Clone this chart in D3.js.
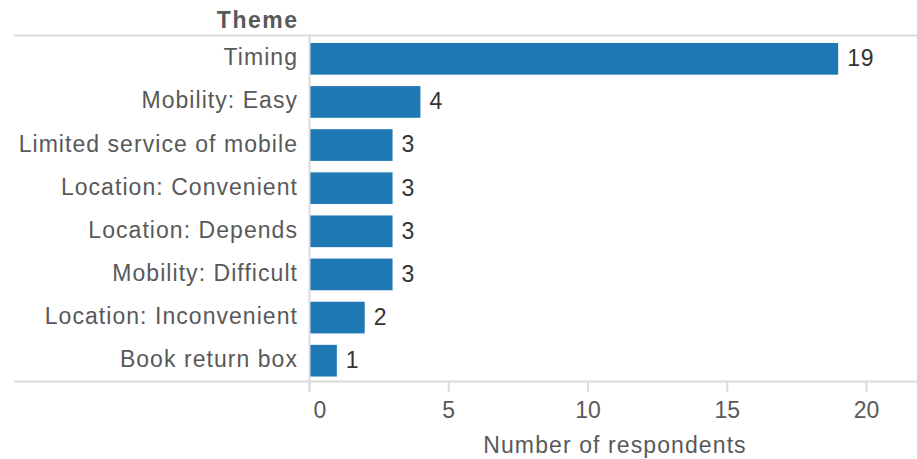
<!DOCTYPE html>
<html><head><meta charset="utf-8">
<script src="https://cdn.jsdelivr.net/npm/d3@7"></script>
<style>body{margin:0;background:#fff}svg{display:block}text{font-family:"Liberation Sans",Arial,sans-serif}</style>
</head><body><svg id="c" width="917" height="459"></svg>
<script>
const themes = ["Timing","Mobility: Easy","Limited service of mobile","Location: Convenient","Location: Depends","Mobility: Difficult","Location: Inconvenient","Book return box"];
const counts = [19,4,3,3,3,3,2,1];
const xTicks = [0,5,10,15,20];
const yTitle = "Theme";
const xTitle = "Number of respondents";

const svg = d3.select("#c");
const x = d3.scaleLinear().domain([0,20]).range([309,866]);
const y = d3.scaleBand().domain(themes).range([36.5,383]).paddingInner(0.265).paddingOuter(0.15);
const gridC = "#dcdcdc";

// top and bottom rules
svg.append("line").attr("x1",14).attr("x2",917).attr("y1",35.5).attr("y2",35.5).attr("stroke",gridC).attr("stroke-width",2);
svg.append("line").attr("x1",14).attr("x2",917).attr("y1",381.5).attr("y2",381.5).attr("stroke",gridC).attr("stroke-width",2);

// bars
svg.selectAll("rect.bar").data(themes).join("rect").attr("class","bar")
  .attr("x",x(0)).attr("y",d=>y(d)).attr("height",y.bandwidth())
  .attr("width",(d,i)=>x(counts[i])-x(0)).attr("fill","#1f77b4");

// vertical axis line
svg.append("line").attr("x1",309.5).attr("x2",309.5).attr("y1",35).attr("y2",392).attr("stroke",gridC).attr("stroke-width",2);

// x axis
const xa = svg.append("g").attr("transform","translate(0,382)")
  .call(d3.axisBottom(x).tickValues(xTicks).tickSize(10).tickPadding(10));
xa.select(".domain").remove();
xa.selectAll(".tick line").attr("stroke",gridC).attr("stroke-width",2);
xa.selectAll(".tick text").attr("fill","#595959").attr("font-size",23).attr("font-family","Liberation Sans, Arial, sans-serif")
  .attr("text-anchor",d=>d===0?"start":"middle").attr("dx",d=>d===0?4:0);

// y labels
svg.append("g").selectAll("text").data(themes).join("text")
  .attr("x",298).attr("y",d=>y(d)+y.bandwidth()/2).attr("dy","0.28em")
  .attr("text-anchor","end").attr("font-size",23).attr("letter-spacing","1.05px").attr("fill","#595959").text(d=>d);

// value labels
svg.append("g").selectAll("text").data(themes).join("text")
  .attr("x",(d,i)=>x(counts[i])+9).attr("y",d=>y(d)+y.bandwidth()/2).attr("dy","0.32em")
  .attr("font-size",23).attr("letter-spacing","0.8px").attr("fill","#333").text((d,i)=>counts[i]);

// titles
svg.append("text").attr("x",298.5).attr("y",28).attr("text-anchor","end").attr("font-size",23).attr("letter-spacing","1.5px").attr("font-weight","bold").attr("fill","#595959").text(yTitle);
svg.append("text").attr("x",615).attr("y",453).attr("text-anchor","middle").attr("font-size",23).attr("letter-spacing","1.1px").attr("fill","#595959").text(xTitle);
</script></body></html>
